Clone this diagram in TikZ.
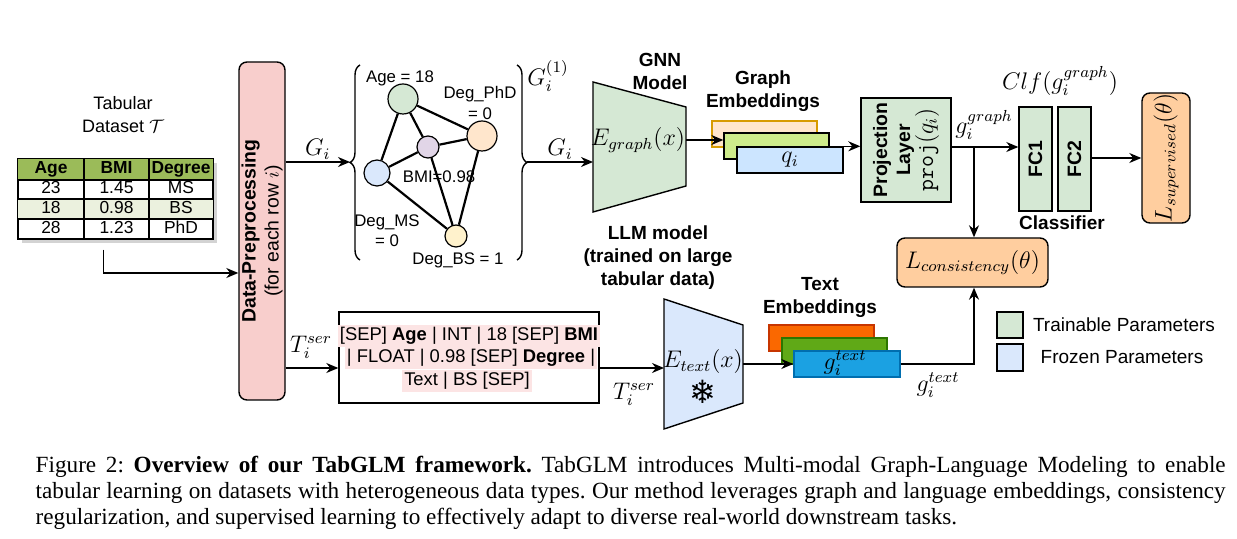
\documentclass[tikz,border=0pt]{standalone}
\usepackage{fontspec}
\usepackage{amsmath}
\setmainfont{Liberation Sans}
\newfontfamily\capfont{Liberation Serif}
\newfontfamily\symfont{DejaVu Sans}
\usetikzlibrary{shapes.misc, shadows, arrows.meta, fit, decorations.pathreplacing}

\definecolor{dpfill}{HTML}{F8CECC}
\definecolor{trgreen}{HTML}{D5E8D4}
\definecolor{frblue}{HTML}{DAE8FC}
\definecolor{lossfill}{HTML}{FFCE9F}
\definecolor{hdrgreen}{HTML}{9BBB59}
\definecolor{rowgreen}{HTML}{EBF1DE}
\definecolor{hlpink}{HTML}{FCE4E4}
\definecolor{nphd}{HTML}{FFE6CC}
\definecolor{nbmi}{HTML}{E1D5E7}
\definecolor{nbs}{HTML}{FFF2CC}
\definecolor{geA}{HTML}{FFE6CC}
\definecolor{geAd}{HTML}{D79B00}
\definecolor{geB}{HTML}{CDEB8B}
\definecolor{geC}{HTML}{CCE5FF}
\definecolor{teA}{HTML}{FA6800}
\definecolor{teAd}{HTML}{C73500}
\definecolor{teB}{HTML}{60A917}
\definecolor{teBd}{HTML}{2D7600}
\definecolor{teC}{HTML}{1BA1E2}
\definecolor{teCd}{HTML}{006EAF}

\begin{document}
\begin{tikzpicture}[x=0.5pt, y=-0.5pt, line width=0.7pt,
	font=\fontsize{9.7}{11.5}\selectfont,
	arr/.style={-{Stealth[length=6pt, width=5pt]}},
	box/.style={draw, inner sep=0pt},
	rbox/.style={box, rounded corners=4pt},
	hd/.style={font=\fontsize{9.5}{11.5}\selectfont\bfseries, align=center},
	mth/.style={font=\fontsize{11.6}{13}\selectfont, inner sep=1pt},
	gn/.style={draw, circle, inner sep=0pt, line width=0.6pt},
	glab/.style={font=\fontsize{8.4}{10}\selectfont, align=center},
	cell/.style={font=\fontsize{8.7}{10}\selectfont, inner sep=0pt, text height=6.2pt, text depth=1.8pt},
	sertxt/.style={font=\fontsize{9.2}{11}\selectfont, fill=hlpink, inner sep=1pt},
	]
	\useasboundingbox (0,0) rectangle (1237,539);

	% tabular dataset
	\node[align=center, font=\fontsize{9}{11.5}\selectfont] (tabtitle) at (123,115) {Tabular\\Dataset $\mathcal{T}$};
	\node[fit={(18,159) (213,239)}, box, fill=white, drop shadow={shadow xshift=2pt, shadow yshift=-2pt, opacity=0.35}] (tab) {};
	\fill[hdrgreen] (18,159) rectangle (213,180);
	\fill[rowgreen] (18,199) rectangle (213,219);
	\foreach \y in {180,199,219} \draw (18,\y) -- (213,\y);
	\foreach \x in {84,149} \draw (\x,159) -- (\x,239);
	\draw (tab.north west) rectangle (tab.south east);
	\foreach \a/\b/\c [count=\r from 0] in {\textbf{Age}/\textbf{BMI}/\textbf{Degree}, 23/1.45/MS, 18/0.98/BS, 28/1.23/PhD}{
		\node[cell] (t\r-1) at (51, 169.5+\r*19.8) {\a};
		\node[cell] (t\r-2) at (116.5, 169.5+\r*19.8) {\b};
		\node[cell] (t\r-3) at (181, 169.5+\r*19.8) {\c};
	}

	% preprocessing
	\node[fit={(239,62) (285,400)}, rbox, fill=dpfill] (dp) {};
	\node[rotate=90, align=center] (dptxt) at (dp) {\textbf{Data-Preprocessing}\\(for each row $i$)};
	\draw[arr] ([xshift=-6pt, yshift=-5pt]tab.south) |- (dp.west |- 0,273);

	% graph of row i
	\coordinate (lbr) at (350,162);
	\coordinate (rbr) at (527,162);
	\draw[arr] (dp.east |- lbr) -- node[mth, above] (gi1) {$G_i$} (lbr);
	\draw[decorate, decoration={brace, amplitude=5pt}] (360,260) -- (360,65);
	\draw[decorate, decoration={brace, amplitude=5pt}] (517,65) -- (517,260);
	\node[mth] (gione) at (548,76) {$G_i^{(1)}$};

	\node[gn, fill=trgreen, minimum size=15pt] (age) at (403,99) {};
	\node[gn, fill=nphd, minimum size=15pt] (phd) at (482,136) {};
	\node[gn, fill=nbmi, minimum size=11pt] (bmi) at (428,147) {};
	\node[gn, fill=frblue, minimum size=13pt] (ms) at (377,173) {};
	\node[gn, fill=nbs, minimum size=11pt] (bs) at (456,236) {};
	\foreach \a/\b in {age/phd, age/bmi, age/ms, bmi/phd, bmi/ms, bmi/bs, phd/bs, ms/bs}
		\draw[line width=1.1pt] (\a) -- (\b);
	\node[glab] (agelab) at (400,78) {Age = 18};
	\node[glab] (phdlab) at (480,103) {Deg\_PhD\\= 0};
	\node[glab] (bmilab) at (439,177) {BMI=0.98};
	\node[glab] (mslab) at (387,231) {Deg\_MS\\= 0};
	\node[glab] (bslab) at (458,260) {Deg\_BS = 1};

	% GNN
	\draw[fill=trgreen] (593,82) -- (686,107) -- (686,186) -- (593,212) -- cycle;
	\coordinate (gnnin) at (593,162);
	\coordinate (gnnout) at (686,140);
	\draw[arr] (rbr) -- node[mth, above] (gi2) {$G_i$} (gnnin);
	\node[mth] (egraph) at (638,140) {$E_{graph}(x)$};
	\node[hd] (gnnlab) at (660,71) {GNN\\Model};

	% graph embeddings
	\node[fit={(712,121) (817,147)}, box, draw=geAd, fill=geA] (ge1) {};
	\node[fit={(724,133) (829,159)}, box, fill=geB] (ge2) {};
	\node[fit={(737,147) (843,173)}, box, fill=geC] (ge3) {};
	\node[mth] (qi) at (ge3) {$q_i$};
	\node[hd] (gelab) at (763,91) {Graph\\Embeddings};
	\draw[arr] (gnnout) -- (ge2.west |- gnnout);

	% projection and classifier
	\node[fit={(861,98) (951,202)}, box, fill=trgreen] (proj) {};
	\node[rotate=90, align=center] (projtxt) at (proj) {\textbf{Projection}\\\textbf{Layer}\\{\fontsize{11.6}{12}\selectfont$\texttt{proj}(q_i)$}};
	\draw[arr] (ge2.east |- ge3.north) -- (proj.west |- ge3.north);

	\node[fit={(1019,107) (1052,211)}, box, fill=trgreen] (fc1) {};
	\node[fit={(1058,107) (1091,211)}, box, fill=trgreen] (fc2) {};
	\node[rotate=90, font=\fontsize{9.7}{11.5}\selectfont\bfseries] (fc1txt) at (fc1) {FC1};
	\node[rotate=90, font=\fontsize{9.7}{11.5}\selectfont\bfseries] (fc2txt) at (fc2) {FC2};
	\node[mth] (clf) at (1060,81) {$Clf(g_i^{graph})$};
	\node[hd] (clflab) at (1062,223) {Classifier};

	\coordinate (br) at (974,147);
	\draw[arr] (proj.east |- br) -- (fc1.west |- br);
	\node[mth] (ggraph) at (984,125) {$g_i^{graph}$};

	\node[fit={(1142,93) (1190,223)}, rbox, fill=lossfill] (lsup) {};
	\node[rotate=90, mth] (lsuptxt) at (lsup) {$L_{supervised}(\theta)$};
	\draw[arr] (fc2.east |- 0,158) -- (lsup.west |- 0,158);

	\node[fit={(897,238) (1048,287)}, rbox, fill=lossfill] (lcons) {};
	\node[mth] (lconstxt) at (lcons) {$L_{consistency}(\theta)$};
	\draw[arr] (br) -- (br |- lcons.north);

	% serialized text
	\node[fit={(339,312) (599,403)}, box] (ser) {};
	\node[sertxt] (ser1) at (469,336) {[SEP] \textbf{Age} | INT | 18 [SEP] \textbf{BMI}};
	\node[sertxt] (ser2) at (471,358) {| FLOAT | 0.98 [SEP] \textbf{Degree} |};
	\node[sertxt] (ser3) at (467,381) {Text | BS [SEP]};
	\draw[arr] (dp.east |- 0,368) -- (ser.west |- 0,368);
	\node[mth] (tser1) at (311,347) {$T_i^{ser}$};

	% LLM
	\draw[fill=frblue] (664,299) -- (743,325) -- (743,403) -- (664,429) -- cycle;
	\coordinate (llmin) at (664,368);
	\coordinate (llmout) at (743,364);
	\draw[arr] (ser.east |- llmin) -- (llmin);
	\node[mth] (tser2) at (634,394) {$T_i^{ser}$};
	\node[mth] (etext) at (703,362) {$E_{text}(x)$};
	\node[font=\symfont\fontsize{16}{16}\selectfont, inner sep=0pt] (snow) at (703,392) {❄};
	\node[hd] (llmlab) at (658,258) {LLM model\\(trained on large\\tabular data)};

	% text embeddings
	\node[fit={(769,325) (874,351)}, box, draw=teAd, fill=teA] (te1) {};
	\node[fit={(782,338) (887,364)}, box, draw=teBd, fill=teB] (te2) {};
	\node[fit={(794,351) (900,377)}, box, draw=teCd, fill=teC] (te3) {};
	\node[mth] (gt) at (845,363) {$g_i^{text}$};
	\node[hd] (telab) at (820,297) {Text\\Embeddings};
	\draw[arr] (llmout) -- (te3.west |- llmout);
	\draw[arr] (te3.east |- llmout) -| (br |- lcons.south);
	\node[mth] (gtext) at (938,385) {$g_i^{text}$};

	% legend
	\node[fit={(997,312) (1023,338)}, box, fill=trgreen] (leg1) {};
	\node[fit={(997,344) (1023,371)}, box, fill=frblue] (leg2) {};
	\node[font=\fontsize{9.5}{11.5}\selectfont] (leg1txt) at (1124,325) {Trainable Parameters};
	\node[font=\fontsize{9.5}{11.5}\selectfont] (leg2txt) at (1122,357) {Frozen Parameters};

	% caption
	\node[anchor=north west, inner sep=0pt, text width=595pt, align=justify,
		font=\capfont\fontsize{11.6}{13}\selectfont] (cap) at (35,455)
		{\frenchspacing\hyphenpenalty=10000 Figure 2: \textbf{Overview of our TabGLM framework.} TabGLM introduces Multi-modal Graph-Language Modeling to enable\linebreak tabular learning on datasets with heterogeneous data types. Our method leverages graph and language embeddings, consistency\linebreak regularization, and supervised learning to effectively adapt to diverse real-world downstream tasks.};
\end{tikzpicture}
\end{document}
